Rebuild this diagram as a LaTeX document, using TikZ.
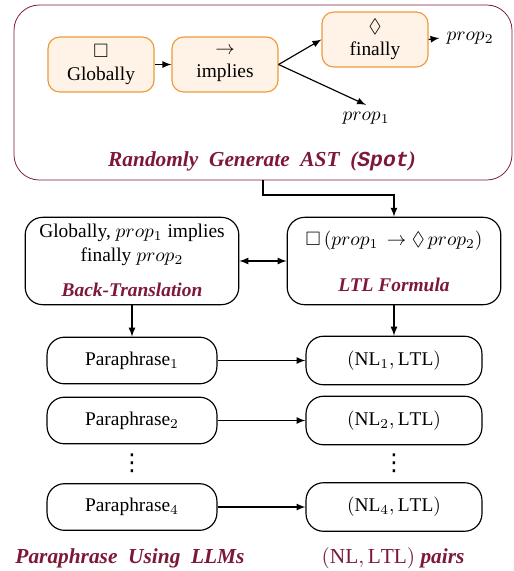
\documentclass[tikz,border=0pt]{standalone}
\usepackage{amsmath}
\usepackage{amssymb}
\usepackage{fontspec}
\setmainfont{Liberation Serif}
\setmonofont{Liberation Mono}
\newfontfamily\dotsfont{DejaVu Sans}
\usepackage{tikz}
\usetikzlibrary{arrows,shapes}
\usetikzlibrary{calc}

\definecolor{maroonred}{HTML}{7D1838}
\definecolor{astborder}{HTML}{EE9A3A}
\definecolor{astfill}{HTML}{FEF3E6}

\tikzset{
  astnode/.style={draw=astborder, fill=astfill, rounded corners=6pt,
    minimum width=54.6pt, minimum height=28.3pt, align=center, inner sep=1pt},
  blockbox/.style={draw, semithick, rounded corners=9pt, minimum width=110pt,
    minimum height=45pt},
  rowbox/.style={draw, semithick, rounded corners=9pt, minimum width=87.5pt,
    minimum height=24pt},
  pairbox/.style={draw, semithick, rounded corners=9pt, minimum width=90.6pt,
    minimum height=25pt},
  dotsnode/.style={inner sep=0pt, font=\dotsfont\fontsize{12}{12}\selectfont},
  steplabel/.style={text=maroonred, font=\bfseries\itshape},
  biglabel/.style={text=maroonred, font=\fontsize{11}{13}\selectfont\bfseries\itshape},
}

\begin{document}
\begin{tikzpicture}[x=0.515pt, y=-0.515pt, >=latex, semithick]
  \useasboundingbox (0,0) rectangle (514,571);

  % AST
  \draw[maroonred, thin, rounded corners=13pt] (14,5) rectangle (512,180);
  \coordinate (ast) at (263,180);
  \node[astnode] (glob) at (101,64.5) {$\Box$\\Globally};
  \node[astnode] (impl) at (225,64.5) {$\rightarrow$\\implies};
  \node[astnode] (fin) at (375,39.5) {$\Diamond$\\finally};
  \node (prop1) at (366,118) {$prop_1$};
  \node (prop2) at (470,38) {$prop_2$};
  \node[biglabel] (astlabel) at (262,161)
    {Randomly\ \ Generate\ \ AST\ \ (\texttt{Spot})};

  \draw[->] (glob) -- (impl);
  \draw[->] (impl.east) -- (fin.west);
  \draw[->] (impl.east) -- (prop1.north);
  \draw[->] (fin.east) -- (prop2.west);

  % Back-translation and formula
  \node[blockbox] (bt) at (132,261) {};
  \node[align=center] (bttext) at (132,245)
    {Globally, $prop_1$ implies\\finally $prop_2$};
  \node[steplabel] (btlabel) at (132,290) {Back-Translation};
  \node[blockbox] (ltl) at (394,261) {};
  \node (ltltext) at (394,241) {$\Box\,(prop_1\, \rightarrow \Diamond\, prop_2)$};
  \node[steplabel] (ltllabel) at (394,285) {LTL Formula};

  \draw[->] (ast) -- ++(0,15) -| (ltl.north);
  \draw[<->] (bt.east) -- (ltl.west);

  % Paraphrases
  \node[rowbox] (para1) at (132,360.5) {Paraphrase$_1$};
  \node[rowbox] (para2) at (132,420.5) {Paraphrase$_2$};
  \node[dotsnode] (pdots) at (132,463) {⋮};
  \node[rowbox] (para4) at (132,507) {Paraphrase$_4$};
  \node[pairbox] (pair1) at (394,360.5) {$(\mathrm{NL}_1, \mathrm{LTL})$};
  \node[pairbox] (pair2) at (394,420.5) {$(\mathrm{NL}_2, \mathrm{LTL})$};
  \node[dotsnode] (qdots) at (394,463) {⋮};
  \node[pairbox] (pair4) at (394,507) {$(\mathrm{NL}_4, \mathrm{LTL})$};

  \draw[->] (bt.south) -- (para1.north);
  \draw[->] (ltl.south) -- (pair1.north);
  \foreach \i in {1,2,4}
    \draw[->] (para\i.east) -- (pair\i.west);

  % Bottom labels
  \node[biglabel] (paralabel) at (130,558) {Paraphrase\ \ Using\ \ LLMs};
  \node[text=maroonred, font=\fontsize{11}{13}\selectfont] (pairlabel) at (393,558)
    {$(\mathrm{NL}, \mathrm{LTL})$ \textbf{\textit{pairs}}};
\end{tikzpicture}
\end{document}
